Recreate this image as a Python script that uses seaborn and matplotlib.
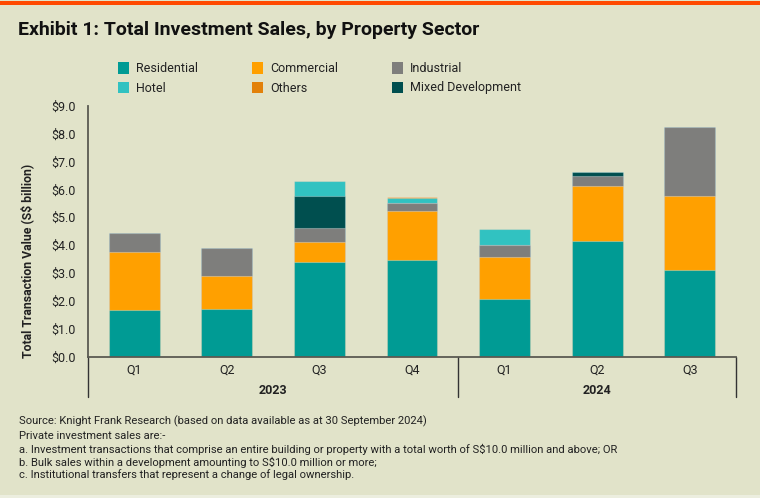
import matplotlib
matplotlib.use("Agg")
import matplotlib.pyplot as plt
import matplotlib.transforms as mtransforms
from matplotlib.patches import Rectangle
import seaborn as sns
import pandas as pd
import numpy as np

# ---- data (S$ billion) ----
periods = ["2023 Q1", "2023 Q2", "2023 Q3", "2023 Q4", "2024 Q1", "2024 Q2", "2024 Q3"]
quarter_labels = ["Q1", "Q2", "Q3", "Q4", "Q1", "Q2", "Q3"]
years = ["2023", "2024"]
residential = [1.67, 1.70, 3.41, 3.47, 2.08, 4.15, 3.11]
commercial = [2.08, 1.19, 0.70, 1.74, 1.48, 1.96, 2.66]
industrial = [0.70, 1.01, 0.49, 0.30, 0.44, 0.37, 2.47]
mixed_dev = [0.00, 0.00, 1.16, 0.00, 0.00, 0.13, 0.00]
hotel = [0.00, 0.00, 0.55, 0.19, 0.57, 0.00, 0.00]
others = [0.00, 0.00, 0.00, 0.03, 0.00, 0.00, 0.00]

stack_order = ["Residential", "Commercial", "Industrial", "Mixed Development", "Hotel", "Others"]
series = {
    "Residential": residential,
    "Commercial": commercial,
    "Industrial": industrial,
    "Mixed Development": mixed_dev,
    "Hotel": hotel,
    "Others": others,
}
palette = {
    "Residential": "#009B94",
    "Commercial": "#FFA000",
    "Industrial": "#7E7E7C",
    "Hotel": "#31C2C1",
    "Others": "#E2810A",
    "Mixed Development": "#004F4F",
}
legend_order = ["Residential", "Commercial", "Industrial", "Hotel", "Others", "Mixed Development"]

BG = "#E1E3C9"
sns.set_theme(style="white")
plt.rcParams["font.family"] = ["Roboto", "DejaVu Sans"]

W, H = 760, 498
fig = plt.figure(figsize=(W / 100, H / 100), dpi=100)
fig.patch.set_facecolor(BG)

def fx(px):
    return px / W

def fy(py):
    return 1 - py / H

ax_left, ax_right, ax_bot, ax_top = 88, 736, 356.7, 105.7
ax = fig.add_axes([fx(ax_left), fy(ax_bot), fx(ax_right - ax_left), (ax_bot - ax_top) / H])
ax.set_facecolor(BG)

# cumulative stacking drawn from top layer down
df = pd.DataFrame(series, index=periods)
cum = df[stack_order].cumsum(axis=1)
for name in reversed(stack_order):
    sns.barplot(x=periods, y=cum[name].values, color=palette[name], saturation=1,
                width=0.55, ax=ax, edgecolor=(1, 1, 1, 0.3), linewidth=0.8, zorder=2)

ax.set_xlim(-0.5, 6.5)
ax.set_ylim(0, 9.0)
yt = np.arange(0, 9.01, 1.0)
ax.set_yticks(yt)
ax.set_yticklabels([f"${v:.1f}" for v in yt], fontsize=9, color="#222222")
ax.set_xticks(range(len(periods)))
ax.set_xticklabels(quarter_labels, fontsize=9, color="#222222")
ax.tick_params(axis="y", length=0, pad=9)
ax.tick_params(axis="x", length=0, pad=5)
for s in ["top", "right"]:
    ax.spines[s].set_visible(False)
for s in ["left", "bottom"]:
    ax.spines[s].set_color("#5a5a52")
    ax.spines[s].set_linewidth(1.3)
ax.set_xlabel("")
ax.set_ylabel("")

# year separators and labels
trans = mtransforms.blended_transform_factory(ax.transData, ax.transAxes)
sep_low = (ax_bot - 397) / (ax_bot - ax_top)
for xv in [-0.5, 3.5, 6.5]:
    ax.plot([xv, xv], [0, sep_low], transform=trans, color="#333333", lw=1.0, clip_on=False)
year_y = (ax_bot - 391) / (ax_bot - ax_top)
ax.text(1.5, year_y, years[0], transform=trans, ha="center", va="center",
        fontsize=9, fontweight="bold", color="#222222")
ax.text(5.0, year_y, years[1], transform=trans, ha="center", va="center",
        fontsize=9, fontweight="bold", color="#222222")

# y label
fig.text(fx(27), fy(261), "Total Transaction Value (S$ billion)", rotation=90,
         ha="center", va="center", fontsize=8.8, fontweight="bold", color="#222222")

# top stripe & bottom band
fig.add_artist(Rectangle((0, fy(5)), 1, 4 / H, transform=fig.transFigure,
                         facecolor="#FF4A00", edgecolor="none"))
fig.add_artist(Rectangle((0, 0), 1, 3 / H, transform=fig.transFigure,
                         facecolor="#ECEEDF", edgecolor="none"))

# title
fig.text(fx(18), fy(30), "Exhibit 1: Total Investment Sales, by Property Sector",
         ha="left", va="center", fontsize=14, fontweight="bold", color="#111111")

# legend (manual)
col_x = [118, 252, 392]
row_y = [68, 88]
for i, name in enumerate(legend_order):
    r, c = divmod(i, 3)
    x0, yc = col_x[c], row_y[r]
    fig.add_artist(Rectangle((fx(x0), fy(yc + 5.5)), 11 / W, 11 / H,
                             transform=fig.transFigure, facecolor=palette[name], edgecolor="none"))
    fig.text(fx(x0 + 18), fy(yc), name, ha="left", va="center", fontsize=9, color="#222222")

# footnotes
notes = [
    "Source: Knight Frank Research (based on data available as at 30 September 2024)",
    "Private investment sales are:-",
    "a. Investment transactions that comprise an entire building or property with a total worth of S$10.0 million and above; OR",
    "b. Bulk sales within a development amounting to S$10.0 million or more;",
    "c. Institutional transfers that represent a change of legal ownership.",
]
note_y = [421, 435.5, 449, 462, 475]
for t, yy in zip(notes, note_y):
    fig.text(fx(19), fy(yy), t, ha="left", va="center", fontsize=8.1, color="#222222")

fig.savefig("out.png", dpi=100, facecolor=BG)
